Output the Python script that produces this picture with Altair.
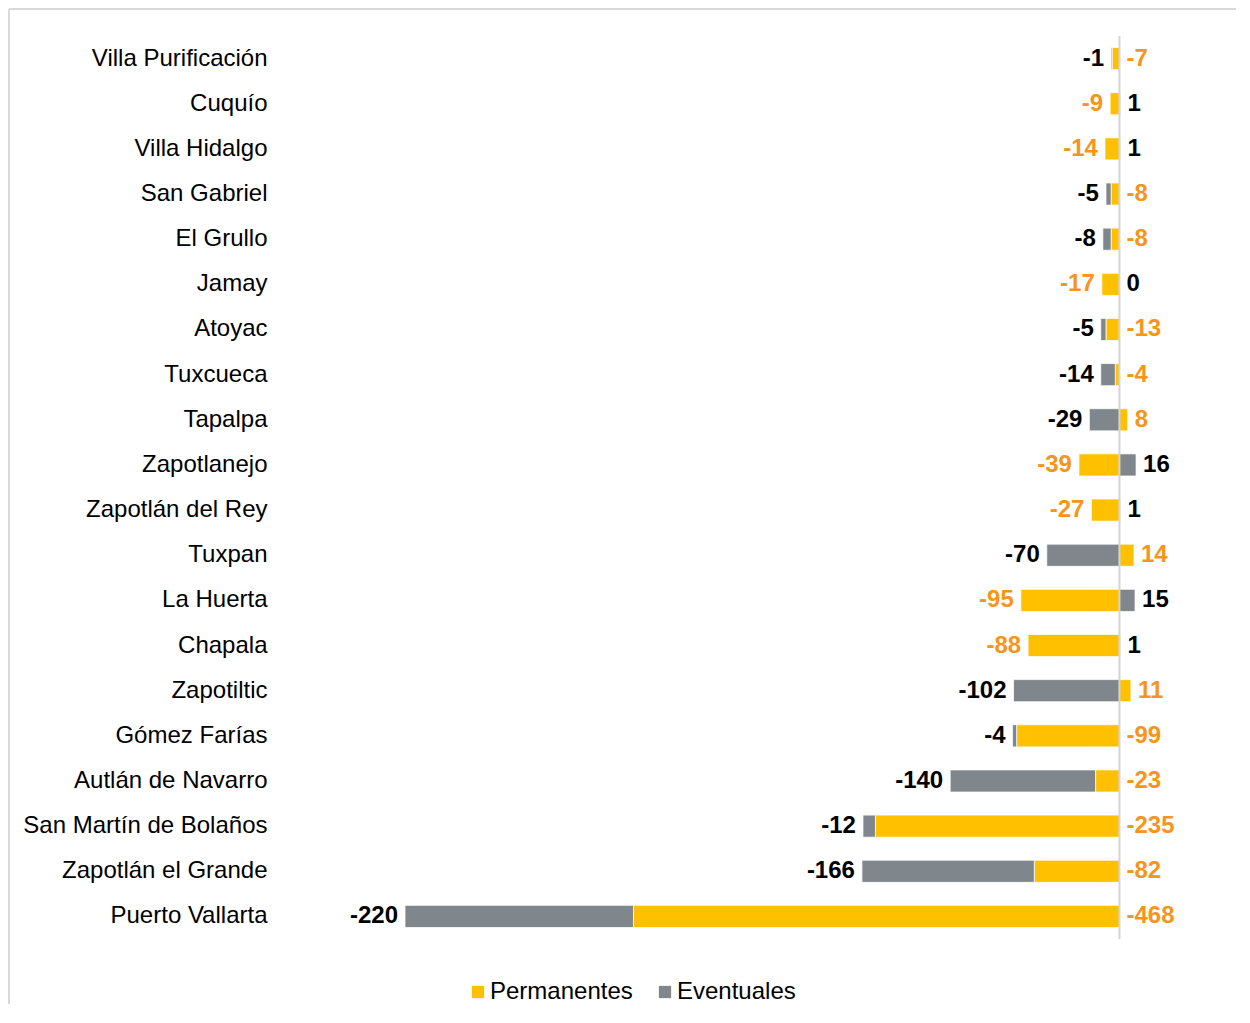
import altair as alt
import pandas as pd

municipios = ["Villa Purificación", "Cuquío", "Villa Hidalgo", "San Gabriel", "El Grullo",
              "Jamay", "Atoyac", "Tuxcueca", "Tapalpa", "Zapotlanejo", "Zapotlán del Rey",
              "Tuxpan", "La Huerta", "Chapala", "Zapotiltic", "Gómez Farías",
              "Autlán de Navarro", "San Martín de Bolaños", "Zapotlán el Grande", "Puerto Vallarta"]
permanentes = [-7, -9, -14, -8, -8, -17, -13, -4, 8, -39, -27, 14, -95, -88, 11, -99, -23, -235, -82, -468]
eventuales = [-1, 1, 1, -5, -8, 0, -5, -14, -29, 16, 1, -70, 15, 1, -102, -4, -140, -12, -166, -220]

series = ["Permanentes", "Eventuales"]
YELLOW = "#FFC000"
GRAY = "#7F878C"
ORANGE = "#F7941D"
FONT = "Liberation Sans"
FS = 24

rows = []
for m, p, e in zip(municipios, permanentes, eventuales):
    rows.append({"muni": m, "serie": "Permanentes", "valor": p, "ord": 0})
    rows.append({"muni": m, "serie": "Eventuales", "valor": e, "ord": 1})
bars_df = pd.DataFrame(rows)

lab_left, lab_right = [], []
for m, p, e in zip(municipios, permanentes, eventuales):
    neg = sum(v for v in (p, e) if v < 0)
    pos = sum(v for v in (p, e) if v > 0)
    if e < 0:
        lab_left.append({"muni": m, "txt": str(e), "pos": neg, "col": "#000000"})
        lab_right.append({"muni": m, "txt": str(p), "pos": pos, "col": ORANGE})
    else:
        lab_left.append({"muni": m, "txt": str(p), "pos": neg, "col": ORANGE})
        lab_right.append({"muni": m, "txt": str(e), "pos": pos, "col": "#000000"})
left_df = pd.DataFrame(lab_left)
right_df = pd.DataFrame(lab_right)

xscale = alt.Scale(domain=[-688, 40], nice=False, zero=False)
yscale = alt.Scale(domain=municipios, paddingInner=0.51, paddingOuter=0.255)

y_enc = alt.Y("muni:N", scale=yscale, sort=municipios,
              axis=alt.Axis(title=None, domain=False, ticks=False, labelPadding=138,
                            labelFontSize=FS, labelFont=FONT, labelColor="#000000",
                            labelLimit=500))

frame_df = pd.DataFrame({"a": [0]})
border_left = alt.Chart(frame_df).mark_rule(color="#D9D9D9", strokeWidth=2).encode(
    x=alt.value(-396), y=alt.value(-27), y2=alt.value(1100))
border_top = alt.Chart(frame_df).mark_rule(color="#D9D9D9", strokeWidth=2).encode(
    x=alt.value(-396), x2=alt.value(900), y=alt.value(-27))

bars = alt.Chart(bars_df).mark_bar(stroke="white", strokeWidth=0.75).encode(
    x=alt.X("valor:Q", scale=xscale, axis=None, stack="zero"),
    y=y_enc,
    color=alt.Color("serie:N", scale=alt.Scale(domain=series, range=[YELLOW, GRAY]),
                    legend=alt.Legend(title=None, orient="none", direction="horizontal",
                                      legendX=61, legendY=944, symbolType="square",
                                      symbolSize=150, symbolStrokeWidth=0,
                                      labelFontSize=FS, labelFont=FONT, labelColor="#000000",
                                      columnPadding=20, labelOffset=0, padding=0)),
    order=alt.Order("ord:Q"),
)

zero_rule = alt.Chart(pd.DataFrame({"z": [0]})).mark_rule(color="#D4D4D4", strokeWidth=2).encode(
    x=alt.X("z:Q", scale=xscale, axis=None)
)

left_text = alt.Chart(left_df).mark_text(
    align="right", baseline="middle", dx=-7, fontSize=FS, fontWeight="bold", font=FONT
).encode(
    x=alt.X("pos:Q", scale=xscale, axis=None),
    y=y_enc,
    text="txt:N",
    color=alt.Color("col:N", scale=None),
)

right_text = alt.Chart(right_df).mark_text(
    align="left", baseline="middle", dx=7, fontSize=FS, fontWeight="bold", font=FONT
).encode(
    x=alt.X("pos:Q", scale=xscale, axis=None),
    y=y_enc,
    text="txt:N",
    color=alt.Color("col:N", scale=None),
)

chart = alt.layer(border_left, border_top, bars, zero_rule, left_text, right_text).resolve_scale(
    color="independent"
).properties(
    width=756, height=903,
    autosize=alt.AutoSizeParams(type="none"),
    padding={"left": 397, "top": 28, "right": 75, "bottom": 65},
).configure(font=FONT).configure_view(stroke=None)

chart.save("out.html", embed_options={"renderer": "svg", "actions": False})
